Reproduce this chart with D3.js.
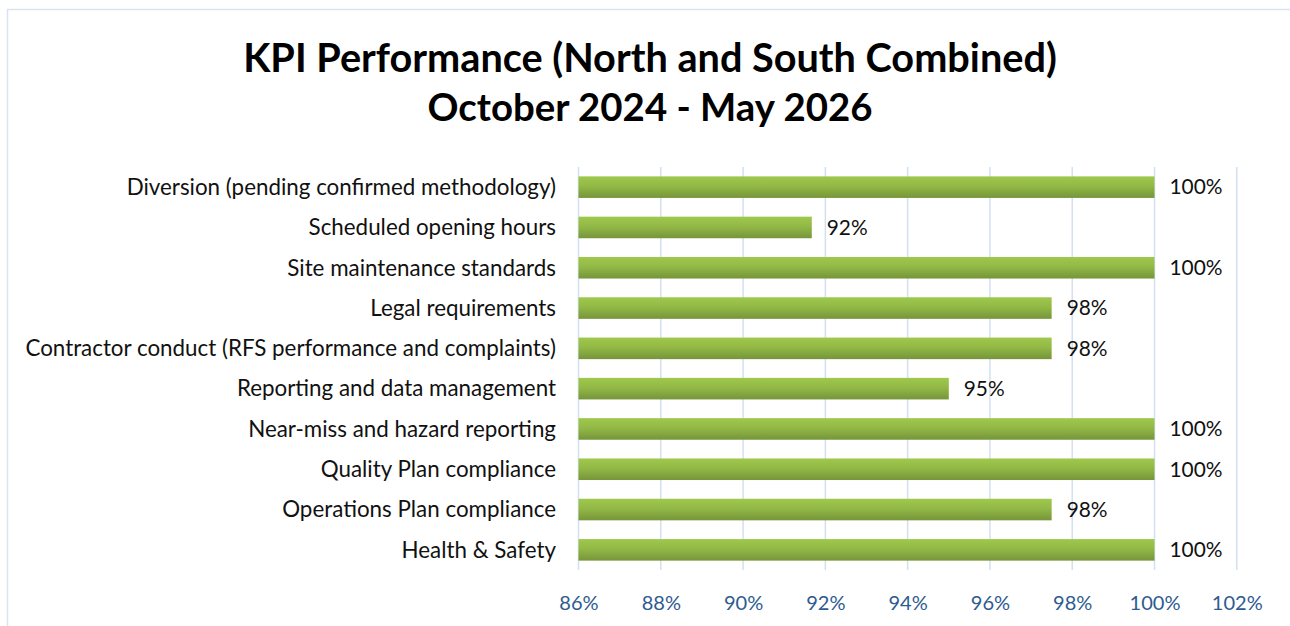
<!DOCTYPE html>
<html>
<head>
<meta charset="utf-8">
<script src="https://cdn.jsdelivr.net/npm/d3@7"></script>
<style>
  html, body { margin: 0; padding: 0; background: #ffffff; }
  svg { display: block; }
</style>
</head>
<body>
<svg id="chart" width="1290" height="626"></svg>
<script>
// ---- Data ----
const titleLines = ["KPI Performance (North and South Combined)", "October 2024 - May 2026"];
const categories = [
  "Diversion (pending confirmed methodology)",
  "Scheduled opening hours",
  "Site maintenance standards",
  "Legal requirements",
  "Contractor conduct (RFS performance and complaints)",
  "Reporting and data management",
  "Near-miss and hazard reporting",
  "Quality Plan compliance",
  "Operations Plan compliance",
  "Health & Safety"
];
const values = [1.00, 0.9167, 1.00, 0.975, 0.975, 0.95, 1.00, 1.00, 0.975, 1.00];
const xTicks = [0.86, 0.88, 0.90, 0.92, 0.94, 0.96, 0.98, 1.00, 1.02];
const xDomain = [0.86, 1.02];

// ---- Layout ----
const W = 1290, H = 626;
const plot = { left: 578.5, right: 1236.8, top: 167, bottom: 570 };
const FONT = "Lato, 'Open Sans', sans-serif";

const svg = d3.select("#chart");

// chart border
svg.append("rect")
  .attr("x", 7.5).attr("y", 9.5)
  .attr("width", W + 10).attr("height", H + 10)
  .attr("fill", "#ffffff")
  .attr("stroke", "#D9E4F2").attr("stroke-width", 1.5);

const defs = svg.append("defs");
const grad = defs.append("linearGradient")
  .attr("id", "barGrad").attr("x1", 0).attr("y1", 0).attr("x2", 0).attr("y2", 1);
grad.append("stop").attr("offset", "0%").attr("stop-color", "#9FC84C");
grad.append("stop").attr("offset", "45%").attr("stop-color", "#92B946");
grad.append("stop").attr("offset", "100%").attr("stop-color", "#76953A");

const x = d3.scaleLinear().domain(xDomain).range([plot.left, plot.right]);
const y = d3.scaleBand().domain(categories).range([plot.top, plot.bottom])
  .paddingInner(0.465).paddingOuter(0.2325);

// helper: scale font so a sample string reaches a target width
function fitSize(sel, base, target) {
  const w = sel.node().getComputedTextLength();
  return base * target / w;
}

// gridlines
svg.append("g").selectAll("line").data(xTicks).join("line")
  .attr("x1", d => x(d)).attr("x2", d => x(d))
  .attr("y1", plot.top).attr("y2", plot.bottom)
  .attr("stroke", "#D3E0F1").attr("stroke-width", 1.5);

// x axis tick labels
const xAxis = d3.axisBottom(x).tickValues(xTicks).tickFormat(d3.format(".0%")).tickSize(0).tickPadding(0);
const gx = svg.append("g").attr("transform", `translate(0, ${plot.bottom + 26})`).call(xAxis);
gx.select(".domain").remove();
const tickTexts = gx.selectAll("text")
  .attr("font-family", FONT).attr("font-size", 19).attr("fill", "#2E5B8F")
  .attr("dy", "0.35em").attr("y", 7);
const tickSize = fitSize(tickTexts.filter(d => d === 1.00), 19, 51);
tickTexts.attr("font-size", tickSize);

// bars
svg.append("g").selectAll("rect").data(categories).join("rect")
  .attr("x", x(xDomain[0]))
  .attr("y", d => y(d))
  .attr("width", (d, i) => x(values[i]) - x(xDomain[0]))
  .attr("height", y.bandwidth())
  .attr("fill", "url(#barGrad)");

// data labels
const fmtLabel = d3.format(".0%");
const dl = svg.append("g").selectAll("text").data(categories).join("text")
  .attr("x", (d, i) => x(values[i]) + 15)
  .attr("y", d => y(d) + y.bandwidth() / 2)
  .attr("dy", "0.35em")
  .attr("font-family", FONT).attr("font-size", 19).attr("fill", "#111111")
  .text((d, i) => fmtLabel(values[i]));
const dlSize = fitSize(dl.filter((d, i) => i === 0), 19, 53);
dl.attr("font-size", dlSize);

// category labels
const catTexts = svg.append("g").selectAll("text").data(categories).join("text")
  .attr("x", 556)
  .attr("y", d => y(d) + y.bandwidth() / 2)
  .attr("dy", "0.35em")
  .attr("text-anchor", "end")
  .attr("font-family", FONT).attr("font-size", 20).attr("fill", "#111111")
  .text(d => d);
const catSize = fitSize(catTexts.filter(d => d === categories[4]), 20, 531);
catTexts.attr("font-size", catSize);

// title
const titleTargets = [{ cx: 650, cy: 58, w: 814 }, { cx: 650, cy: 108, w: 445 }];
titleLines.forEach((t, i) => {
  const el = svg.append("text")
    .attr("x", titleTargets[i].cx).attr("y", titleTargets[i].cy)
    .attr("dy", "0.35em").attr("text-anchor", "middle")
    .attr("font-family", FONT).attr("font-weight", "bold").attr("font-size", 36)
    .attr("fill", "#000000").text(t);
  el.attr("font-size", fitSize(el, 36, titleTargets[i].w));
});
</script>
</body>
</html>
